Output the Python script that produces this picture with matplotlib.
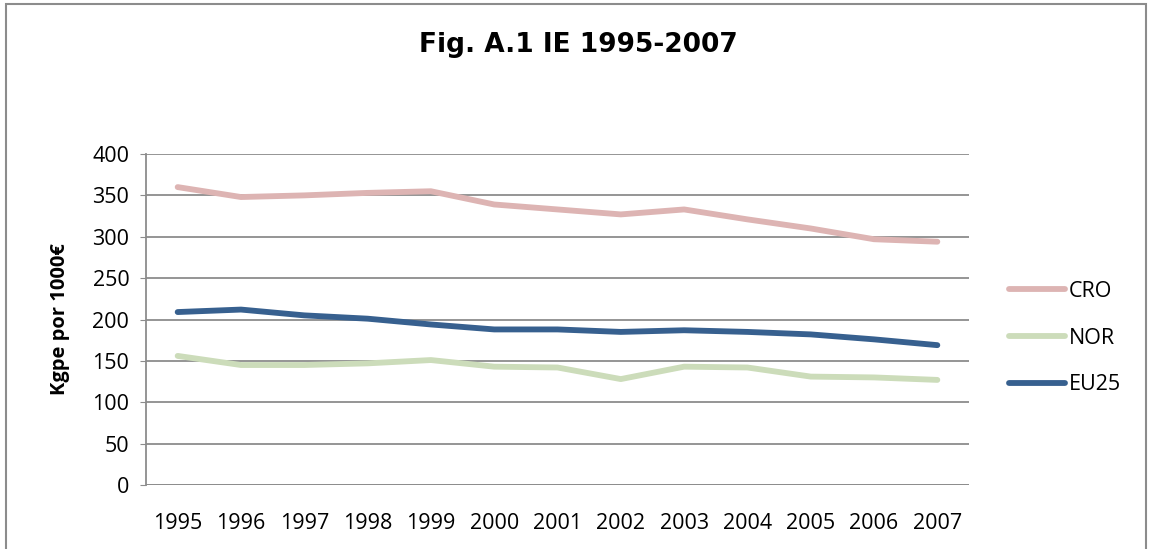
import matplotlib.pyplot as plt
from matplotlib.patches import Rectangle

years = ['1995', '1996', '1997', '1998', '1999', '2000', '2001',
         '2002', '2003', '2004', '2005', '2006', '2007']
cro = [360, 348, 350, 353, 355, 339, 333, 327, 333, 321, 310, 297, 294]
nor = [156, 145, 145, 147, 151, 143, 142, 128, 143, 142, 131, 130, 127]
eu25 = [209, 212, 205, 201, 194, 188, 188, 185, 187, 185, 182, 176, 169]

plt.rcParams['font.family'] = ['Open Sans', 'DejaVu Sans']

fig = plt.figure(figsize=(11.51, 5.49), dpi=100)
ax = fig.add_axes([146 / 1151, 1 - 485 / 549, (969 - 146) / 1151, (485 - 154) / 549])

x = range(len(years))
ax.plot(x, cro, color='#DDB4B3', lw=4.2, solid_capstyle='round', label='CRO')
ax.plot(x, nor, color='#CCDCBA', lw=4.2, solid_capstyle='round', label='NOR')
ax.plot(x, eu25, color='#37608F', lw=4.2, solid_capstyle='round', label='EU25')

ax.set_xlim(-0.5, len(years) - 0.5)
ax.set_ylim(0, 400)
ax.set_yticks(range(0, 401, 50))
ax.set_xticks(list(x))
ax.set_xticklabels(years)
ax.grid(axis='y', color='#8C8C8C', lw=1.3)
ax.set_axisbelow(True)
for s in ['top', 'right', 'bottom']:
    ax.spines[s].set_visible(False)
ax.spines['left'].set_color('#8C8C8C')
ax.spines['left'].set_linewidth(1.3)
ax.tick_params(axis='y', length=4, color='#8C8C8C', labelsize=15.5, pad=8)
ax.tick_params(axis='x', length=0, labelsize=15.5, pad=20)
# bottom axis line
ax.axhline(0, color='#8C8C8C', lw=1.3)

ax.set_ylabel('Kgpe por 1000€', fontsize=14.5, fontweight='bold', labelpad=16)

fig.text(578 / 1151, 1 - 45 / 549, 'Fig. A.1 IE 1995-2007', ha='center', va='center',
         fontsize=19, fontweight='bold', family=['DejaVu Sans'])

ax.legend(loc='center left', bbox_to_anchor=(1.025, 0.444), frameon=False, fontsize=15.5,
          handlelength=2.6, handletextpad=0.2, labelspacing=1.2)

fig.patches.append(Rectangle((6 / 1151, -0.1), 1140 / 1151, 1.1 - 4 / 549,
                             transform=fig.transFigure, fill=False,
                             edgecolor='#8C8C8C', lw=1.5))

fig.savefig('out.png', dpi=100)
